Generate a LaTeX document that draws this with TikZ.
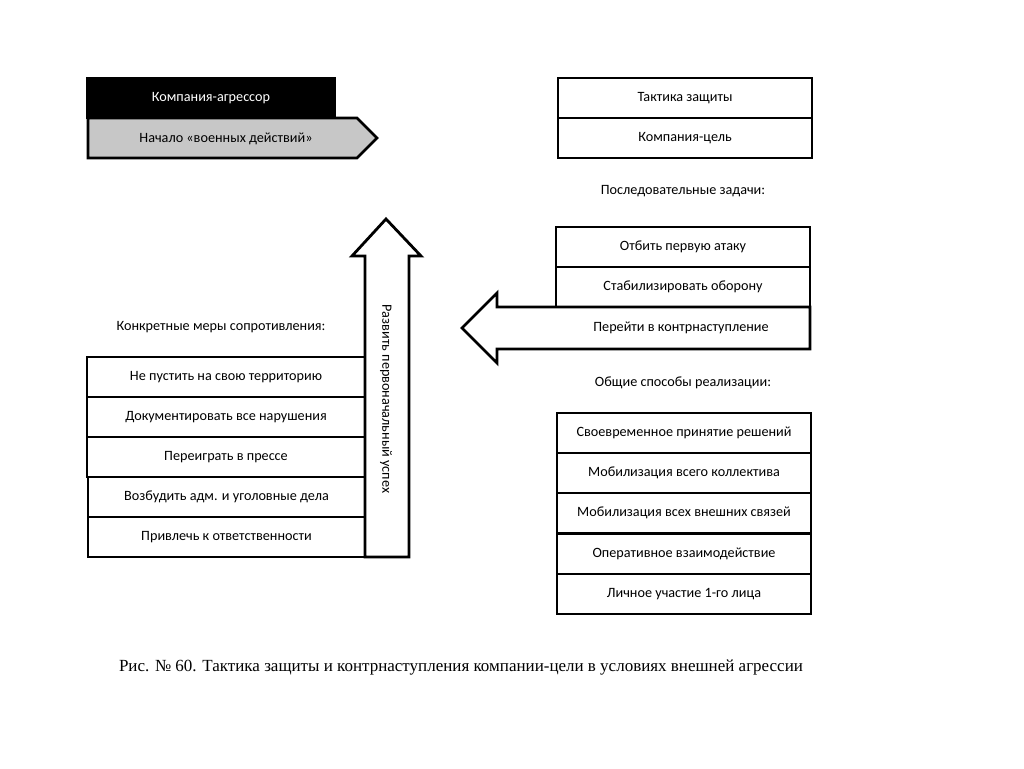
\documentclass[tikz,border=0pt]{standalone}
\usepackage{fontspec}
\setmainfont{Carlito}
\newfontfamily\capfont{Liberation Serif}
\begin{document}
\begin{tikzpicture}[x=1pt,y=-1pt,
  box/.style={draw=black, line width=2.8pt, fill=white, inner sep=0pt, minimum height=40pt, font=\fontsize{14.2}{16}\selectfont},
  lbl/.style={inner sep=0pt, font=\fontsize{14.2}{16}\selectfont},
  shp/.style={draw=black, line width=2.8pt, line join=miter}]
\useasboundingbox (0,0) rectangle (1024,768);
\fill[white] (0,0) rectangle (1024,768);
% top left
\node[box, fill=black, text=white, minimum width=247pt] (agr) at (211,98) {Компания-агрессор};
\draw[shp, fill=black!22] (88,118) -- (357,118) -- (377,138) -- (357,158) -- (88,158) -- cycle;
\node[lbl] (start) at (226,139) {Начало «военных действий»};
% top right
\node[box, minimum width=254pt] (tact) at (685,98) {Тактика защиты};
\node[box, minimum width=254pt] (target) at (685,138) {Компания-цель};
\node[lbl] (seq) at (683,191) {Последовательные задачи:};
\node[box, minimum width=254pt] (t1) at (683,247) {Отбить первую атаку};
\node[box, minimum width=254pt] (t2) at (683,287) {Стабилизировать оборону};
\draw[shp, fill=white] (810,307) -- (497,307) -- (497,293) -- (462,328) -- (497,363) -- (497,349) -- (810,349) -- cycle;
\node[lbl] (t3) at (681,328) {Перейти в контрнаступление};
\node[lbl] (gen) at (683,383) {Общие способы реализации:};
\node[box, minimum width=254pt] (g1) at (684,433) {Своевременное принятие решений};
\node[box, minimum width=254pt] (g2) at (684,473) {Мобилизация всего коллектива};
\node[box, minimum width=254pt] (g3) at (684,513) {Мобилизация всех внешних связей};
\node[box, minimum width=254pt] (g4) at (684,554) {Оперативное взаимодействие};
\node[box, minimum width=254pt] (g5) at (684,594) {Личное участие 1-го лица};
% left
\node[lbl] (meas) at (221,327) {Конкретные меры сопротивления:};
\node[box, minimum width=278pt] (m1) at (226,377) {Не пустить на свою территорию};
\node[box, minimum width=278pt] (m2) at (226,417) {Документировать все нарушения};
\node[box, minimum width=278pt] (m3) at (226,457) {Переиграть в прессе};
\node[box, minimum width=277pt] (m4) at (226.5,497) {Возбудить адм. и уголовные дела};
\node[box, minimum width=277pt] (m5) at (226.5,537) {Привлечь к ответственности};
\draw[shp, fill=white] (365,557) -- (365,256) -- (352,256) -- (386,219) -- (421,256) -- (409,256) -- (409,557) -- cycle;
\node[lbl, rotate=-90] (up) at (386,399) {Развить первоначальный успех};
% caption
\node[inner sep=0pt, font=\capfont\fontsize{17}{20}\selectfont] (cap) at (461,668) {Рис. № 60. Тактика защиты и контрнаступления компании-цели в условиях внешней агрессии};
\end{tikzpicture}
\end{document}
